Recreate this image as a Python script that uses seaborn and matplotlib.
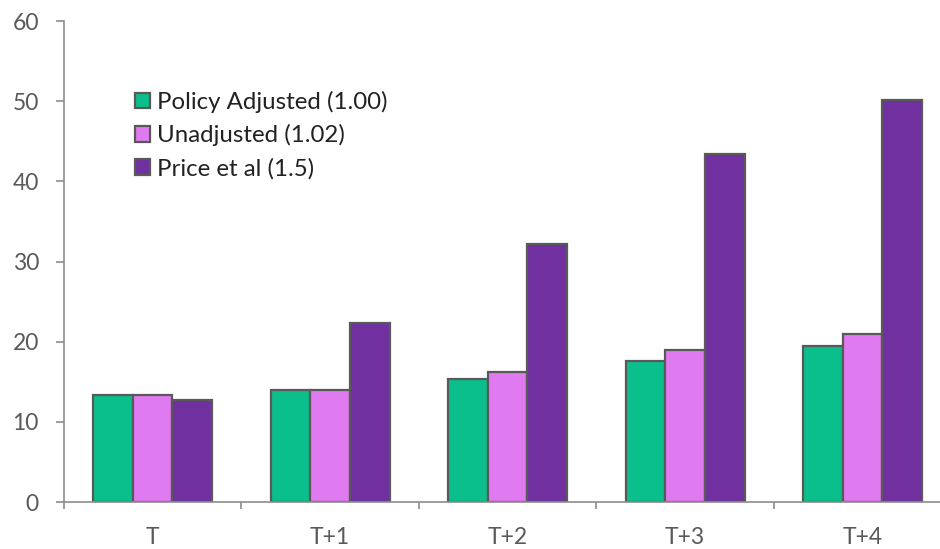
import matplotlib
matplotlib.use("Agg")
import matplotlib.pyplot as plt
import seaborn as sns
import pandas as pd
from matplotlib.ticker import FixedLocator

periods = ["T", "T+1", "T+2", "T+3", "T+4"]
series_names = ["Policy Adjusted (1.00)", "Unadjusted (1.02)", "Price et al (1.5)"]
policy_adjusted = [13.3, 14.0, 15.3, 17.6, 19.4]
unadjusted = [13.3, 14.0, 16.2, 19.0, 21.0]
price_et_al = [12.7, 22.3, 32.2, 43.4, 50.1]
colors = ["#0BBF8C", "#E07AF0", "#7030A0"]

rows = []
for name, vals in zip(series_names, [policy_adjusted, unadjusted, price_et_al]):
    for p, v in zip(periods, vals):
        rows.append({"period": p, "value": v, "series": name})
df = pd.DataFrame(rows)

sns.set_theme(style="white")
plt.rcParams["font.family"] = ["Lato", "DejaVu Sans"]
text_color = "#595959"
axis_color = "#8c8c8c"

fig = plt.figure(figsize=(9.4, 5.49), dpi=100)
# the plot area runs slightly past the right edge of the figure
ax = fig.add_axes([0.068, 0.0856, 0.9441, 0.8761])

sns.barplot(data=df, x="period", y="value", hue="series", palette=colors,
            width=0.67, gap=0, edgecolor="#595959", linewidth=1.6,
            saturation=1, ax=ax, errorbar=None)

ax.set_xlim(-0.5, 4.5)
ax.set_ylim(0, 60)
ax.set_yticks(range(0, 61, 10))
ax.set_xlabel("")
ax.set_ylabel("")

for side in ["top", "right"]:
    ax.spines[side].set_visible(False)
for side in ["left", "bottom"]:
    ax.spines[side].set_color(axis_color)
    ax.spines[side].set_linewidth(1.2)

ax.tick_params(axis="y", which="major", left=True, length=6, width=1.2,
               color=axis_color, labelsize=16.5, labelcolor=text_color, pad=12)
ax.tick_params(axis="x", which="major", bottom=False, labelsize=16.5,
               labelcolor=text_color, pad=12)
ax.xaxis.set_minor_locator(FixedLocator([-0.5, 0.5, 1.5, 2.5, 3.5]))
ax.tick_params(axis="x", which="minor", bottom=True, length=5, width=1.2,
               color=axis_color, direction="out")

leg = ax.legend(loc="upper left", bbox_to_anchor=(0.069, 0.875), frameon=False,
                fontsize=17.3, handlelength=0.62, handleheight=0.62,
                handletextpad=0.3, labelspacing=0.48, labelcolor="#222222",
                borderaxespad=0)
for h in leg.legend_handles:
    h.set_edgecolor("#595959")
    h.set_linewidth(1.6)

fig.savefig("out.png", dpi=100)
